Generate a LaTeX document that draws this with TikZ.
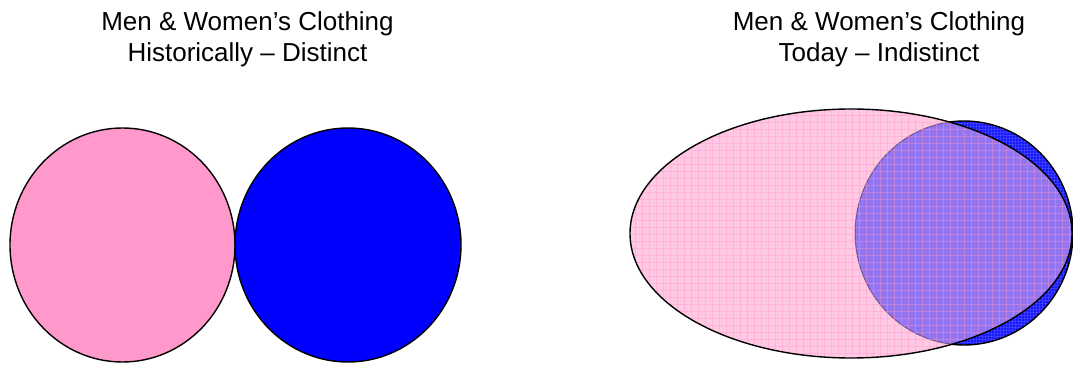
\documentclass[tikz,border=0pt]{standalone}
\usepackage{fontspec}
\setmainfont{Liberation Sans}
\definecolor{lpink}{RGB}{255,153,204}
\definecolor{lblue}{RGB}{0,0,255}
\definecolor{tpink}{RGB}{255,200,228}
\definecolor{tgrid}{RGB}{255,150,200}
\definecolor{tblue}{RGB}{25,25,255}
\tikzset{
  title/.style={anchor=base,inner sep=0pt,font=\fontsize{26}{30}\selectfont},
  shapeline/.style={draw=black,line width=1.4pt}
}
\begin{document}
\begin{tikzpicture}[x=1pt,y=1pt]
\useasboundingbox (0,0) rectangle (1073,364);
% titles
\node[title] (t1a) at (247.5,333) {Men \& Women’s Clothing};
\node[title] (t1b) at (247.5,302.5) {Historically – Distinct};
\node[title] (t2a) at (879,333) {Men \& Women’s Clothing};
\node[title] (t2b) at (879,302.5) {Today – Indistinct};
% left: distinct
\coordinate (wl) at (122.5,119);
\coordinate (ml) at (348,119);
\fill[lpink] (wl) ellipse[x radius=112.5,y radius=117];
\fill[lblue] (ml) ellipse[x radius=113,y radius=117];
\draw[shapeline] (wl) ellipse[x radius=112.5,y radius=117];
\draw[shapeline] (ml) ellipse[x radius=113,y radius=117];
% right: indistinct
\coordinate (wr) at (851,130.5);
\coordinate (mr) at (964,131);
\fill[tblue] (mr) ellipse[x radius=109,y radius=112];
\begin{scope}
  \clip (mr) ellipse[x radius=109,y radius=112];
  \foreach \i in {0,3,...,240} {
    \draw[white,opacity=0.12,line width=0.4pt] (850+\i,0) -- (850+\i,364);
  }
  \foreach \j in {0,3,...,240} {
    \draw[white,opacity=0.12,line width=0.4pt] (850,10+\j) -- (1073,10+\j);
  }
\end{scope}
\draw[shapeline] (mr) ellipse[x radius=109,y radius=112];
\fill[tpink] (wr) ellipse[x radius=221,y radius=124.5];
\begin{scope}
  \clip (wr) ellipse[x radius=221,y radius=124.5];
  \fill[tblue,opacity=0.47] (mr) ellipse[x radius=109,y radius=112];
  \draw[black,opacity=0.4,line width=1pt] (mr) ellipse[x radius=109,y radius=112];
  \foreach \i in {0,7,...,450} {
    \draw[tgrid,opacity=0.4,line width=0.6pt] (628+\i,0) -- (628+\i,364);
  }
  \foreach \j in {0,7,...,260} {
    \draw[tgrid,opacity=0.4,line width=0.6pt] (600,4+\j) -- (1073,4+\j);
  }
\end{scope}
\draw[shapeline] (wr) ellipse[x radius=221,y radius=124.5];
\end{tikzpicture}
\end{document}
